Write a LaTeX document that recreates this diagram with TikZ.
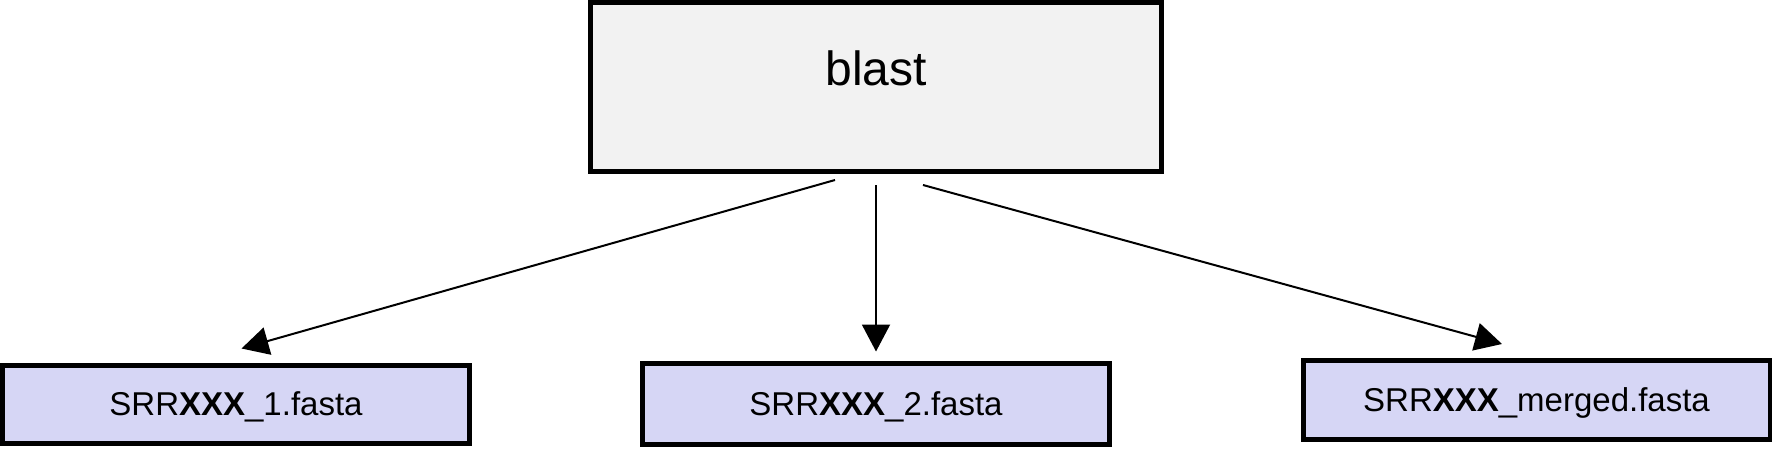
\documentclass[tikz,border=0pt]{standalone}
\usepackage{fontspec}
\setmainfont{Liberation Sans}
\usetikzlibrary{arrows.meta,calc}
\definecolor{topfill}{HTML}{F2F2F2}
\definecolor{filefill}{HTML}{D6D6F5}
\begin{document}
\begin{tikzpicture}[x=1pt,y=-1pt,
  topbox/.style={draw=black,line width=5pt,fill=topfill,minimum width=571pt,minimum height=169pt,inner sep=0pt,
    font=\fontsize{48}{56}\selectfont,text height=35pt,text depth=39pt},
  filebox/.style={draw=black,line width=5pt,fill=filefill,minimum width=467pt,minimum height=79pt,inner sep=0pt,
    font=\fontsize{33}{40}\selectfont,text height=24pt,text depth=2pt},
  conn/.style={line width=2pt,-{Triangle[length=27pt,width=28pt]}}]
\useasboundingbox (0,0) rectangle (1772,450);
\node[topbox] (blast) at (876,87) {blast};
\node[filebox,minimum height=78pt] (f1) at (236,404.5) {SRR\textbf{XXX}\_1.fasta};
\node[filebox,minimum height=81pt] (f2) at (876,404) {SRR\textbf{XXX}\_2.fasta};
\node[filebox] (f3) at (1536.5,400) {SRR\textbf{XXX}\_merged.fasta};
\coordinate (s1) at ($(blast.center)+(-41,93)$);
\coordinate (s2) at ($(blast.center)+(0,98)$);
\coordinate (s3) at ($(blast.center)+(47,98)$);
\coordinate (t1) at ($(f1.center)+(5.5,-56)$);
\coordinate (t2) at ($(f2.center)+(0,-52.5)$);
\coordinate (t3) at ($(f3.center)+(-34.5,-56)$);
\draw[conn] (s1) -- (t1);
\draw[conn] (s2) -- (t2);
\draw[conn] (s3) -- (t3);
\end{tikzpicture}
\end{document}
